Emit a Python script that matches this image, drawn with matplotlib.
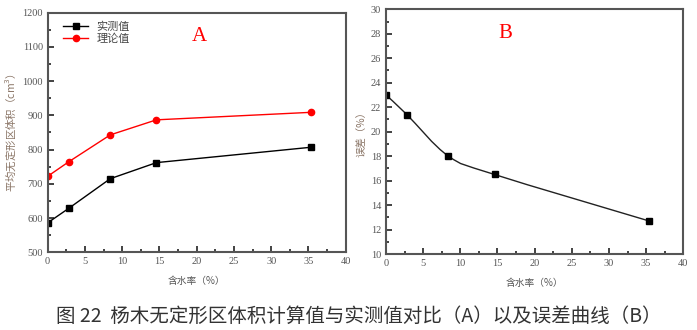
import numpy as np
import matplotlib.pyplot as plt
from matplotlib.path import Path
from matplotlib.patches import PathPatch
from matplotlib.ticker import MultipleLocator

plt.rcParams['font.family'] = ['Liberation Serif', 'Noto Sans CJK SC']

# 含水率与体积数据
moisture = [0, 2.8, 8.4, 14.6, 35.4]
measured = [586, 628, 715, 762, 807]
theory = [722, 764, 843, 887, 909]
error = [23.0, 21.4, 18.0, 16.5, 12.7]

cn = ['Noto Sans CJK SC', 'DejaVu Sans']
spine_c = '#555555'
text_c = '#555555'


def smooth_path(x, y, t=0.5):
    # Catmull-Rom 转三次贝塞尔，用于平滑连线
    x = np.asarray(x, float)
    y = np.asarray(y, float)
    verts = [(x[0], y[0])]
    codes = [Path.MOVETO]
    n = len(x)
    for i in range(n - 1):
        p0 = (x[max(i - 1, 0)], y[max(i - 1, 0)])
        p1 = (x[i], y[i])
        p2 = (x[i + 1], y[i + 1])
        p3 = (x[min(i + 2, n - 1)], y[min(i + 2, n - 1)])
        c1 = (p1[0] + (p2[0] - p0[0]) * t / 3, p1[1] + (p2[1] - p0[1]) * t / 3)
        c2 = (p2[0] - (p3[0] - p1[0]) * t / 3, p2[1] - (p3[1] - p1[1]) * t / 3)
        verts += [c1, c2, p2]
        codes += [Path.CURVE4] * 3
    return Path(verts, codes)


def style_axis(ax, ymaj, ymin):
    for s in ax.spines.values():
        s.set_color(spine_c)
        s.set_linewidth(1.5)
    ax.xaxis.set_major_locator(MultipleLocator(5))
    ax.xaxis.set_minor_locator(MultipleLocator(2.5))
    ax.yaxis.set_major_locator(MultipleLocator(ymaj))
    ax.yaxis.set_minor_locator(MultipleLocator(ymin))
    ax.tick_params(which='both', direction='in', colors='#222222', labelcolor=text_c,
                   labelsize=7.5, width=1.2)
    ax.tick_params(which='major', length=4)
    ax.tick_params(which='minor', length=2.5)
    for lab in ax.get_xticklabels() + ax.get_yticklabels():
        lab.set_family('Liberation Serif')
    ax.set_xlim(0, 40)
    ax.set_xlabel('含水率（%）', family=cn, fontsize=7, color=text_c, labelpad=7)


fig = plt.figure(figsize=(6.97, 3.30), dpi=100)

# A：实测值与理论值
ax1 = fig.add_axes([0.0684, 0.2355, 0.4276, 0.726])
ax1.plot(moisture, measured, color='black', marker='s', markersize=4.5, lw=1, label='实测值')
ax1.plot(moisture, theory, color='red', marker='o', markersize=4.5, lw=1, label='理论值')
ax1.set_ylim(500, 1200)
style_axis(ax1, 100, 50)
ax1.set_ylabel('平均无定形区体积（cm$^3$）', family=cn, fontsize=7.5, color='#8a7566', labelpad=3)
leg = ax1.legend(loc='upper left', bbox_to_anchor=(0.03, 0.99), frameon=False,
                 prop={'family': cn, 'size': 8}, handlelength=2.2, labelspacing=0.1,
                 borderaxespad=0.2)
for t in leg.get_texts():
    t.set_color('#444444')
ax1.text(0.51, 0.90, 'A', transform=ax1.transAxes, color='red', fontsize=15,
         ha='center', va='center')

# B：误差曲线
ax2 = fig.add_axes([0.5538, 0.2303, 0.4265, 0.7415])
ax2.add_patch(PathPatch(smooth_path(moisture, error), facecolor='none',
                        edgecolor='#222222', lw=1))
ax2.plot(moisture, error, ls='none', color='black', marker='s', markersize=4.5)
ax2.set_ylim(10, 30)
style_axis(ax2, 2, 1)
ax2.set_ylabel('误差（%）', family=cn, fontsize=7.5, color='#8a7566', labelpad=3)
ax2.text(0.40, 0.90, 'B', transform=ax2.transAxes, color='red', fontsize=15,
         ha='center', va='center')

fig.text(0.515, 0.04, '图 22  杨木无定形区体积计算值与实测值对比（A）以及误差曲线（B）',
         family=cn, fontsize=14, color='#333333', ha='center', va='center')

fig.savefig('out.png', dpi=100)
